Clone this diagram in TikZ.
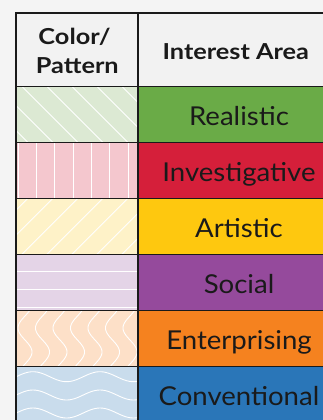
\documentclass[tikz,border=0pt]{standalone}
\usepackage{fontspec}
\setmainfont{Lato}[FakeStretch=1.06,BoldFeatures={FakeStretch=1.15}]
\definecolor{bgc}{HTML}{F4F4F4}
\definecolor{hdc}{HTML}{F2F2F2}
\definecolor{cg}{HTML}{6AAB47}
\definecolor{cgl}{HTML}{DCE9D3}
\definecolor{cr}{HTML}{D51F3A}
\definecolor{crl}{HTML}{F4C7CE}
\definecolor{cy}{HTML}{FEC80F}
\definecolor{cyl}{HTML}{FEF2C8}
\definecolor{cp}{HTML}{954A9C}
\definecolor{cpl}{HTML}{E4D4E7}
\definecolor{co}{HTML}{F5821F}
\definecolor{col}{HTML}{FDE0C8}
\definecolor{cb}{HTML}{2A76B8}
\definecolor{cbl}{HTML}{C9DCEC}
\definecolor{txt}{HTML}{1A1A1A}
\begin{document}
\begin{tikzpicture}[x=1pt,y=-1pt,
  grid/.style={draw=txt,line width=1.2pt},
  pat/.style={draw=white,line width=0.9pt},
  lbl/.style={font=\fontsize{26}{30}\selectfont,text=txt,inner sep=0pt,anchor=base},
  hdr/.style={font=\bfseries\fontsize{22}{26}\selectfont,text=txt,inner sep=0pt,anchor=base}]
\useasboundingbox (0,0) rectangle (323,420);
\clip (0,0) rectangle (323,420);
\fill[bgc] (0,0) rectangle (323,420);
% header
\fill[hdc] (16,13) rectangle (345,86.5);
\node[hdr] (h1a) at (74.5,45) {Color/};
\node[hdr] (h1b) at (77.3,74) {Pattern};
\node[hdr] (h2) at (235.8,59.3) {Interest Area};
% rows
\foreach \i/\c/\l/\t in {0/cg/cgl/Realistic,1/cr/crl/Investigative,2/cy/cyl/Artistic,3/cp/cpl/Social,4/co/col/Enterprising,5/cb/cbl/Conventional}{
  \pgfmathsetmacro\top{86.5+56*\i}
  \fill[\l] (16,\top) rectangle (138,\top+56);
  \fill[\c] (138,\top) rectangle (345,\top+56);
  \node[lbl] (t\i) at (239,\top+39.2) {\t};
}
% Realistic pattern
\begin{scope}
\clip (16,86.5) rectangle (138,142.5);
\foreach \k in {-3,...,5} \draw[pat] (22+25*\k,86.5) -- ++(56,56);
\end{scope}
% Investigative pattern
\foreach \k in {0,...,6} \draw[pat] (18.3+18.3*\k,142.5) -- ++(0,56);
% Artistic pattern
\begin{scope}
\clip (16,198.5) rectangle (138,254.5);
\foreach \k in {-3,...,5} \draw[pat] (21.7+25*\k,254.5) -- ++(56,-56);
\end{scope}
% Social pattern
\foreach \y in {271.5,289.5,307.5} \draw[pat] (16,\y) -- (138,\y);
% Enterprising pattern
\begin{scope}
\clip (16,310.5) rectangle (138,366.5);
\foreach \k in {0,...,6}
  \draw[pat] plot[variable=\s,domain=308:369,samples=50,smooth] ({25+17.5*\k-7*cos(7.5*(\s-328))},\s);
\end{scope}
% Conventional pattern
\begin{scope}
\clip (16,366.5) rectangle (138,422.5);
\foreach \y in {376.7,395,413}
  \draw[pat] plot[variable=\s,domain=14:140,samples=60,smooth] (\s,{\y-5*cos(5.3731*(\s-33))});
\end{scope}
% grid lines
\foreach \i in {0,...,5} \draw[grid] (16,86.5+56*\i) -- (345,86.5+56*\i);
\draw[grid] (16,430) -- (16,13) -- (345,13);
\draw[grid] (138,13) -- (138,430);
\end{tikzpicture}
\end{document}
